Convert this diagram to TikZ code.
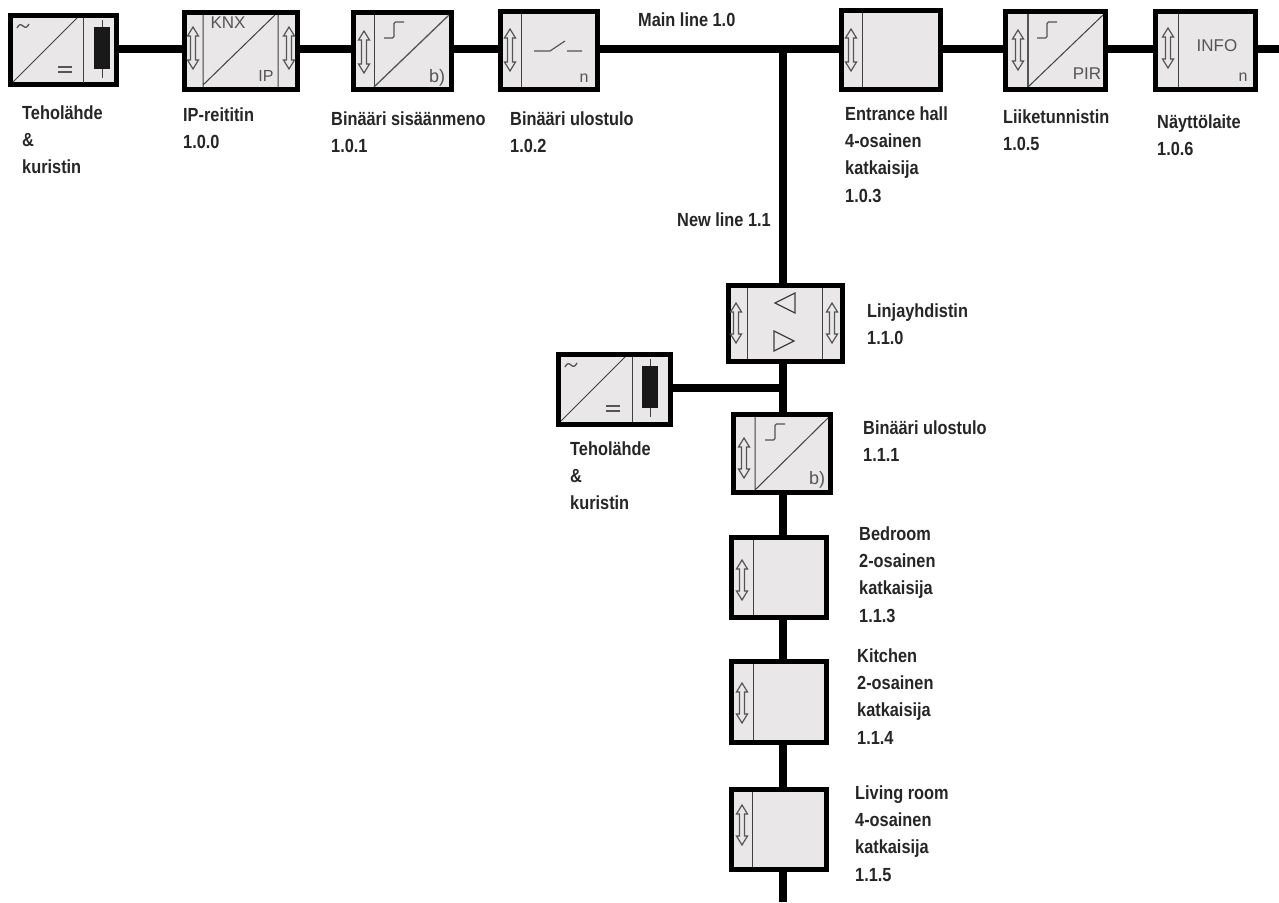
\documentclass[tikz,border=0pt]{standalone}
\usepackage{fontspec}
\setmainfont{Liberation Sans}
\newfontfamily\lblfont[FakeStretch=0.86]{Liberation Sans Bold}
\usetikzlibrary{backgrounds}
\definecolor{boxfill}{HTML}{E9E7E7}
\definecolor{inkgray}{HTML}{555555}
\tikzset{
  x=1pt,y=-1pt,
  devbox/.style={draw=black,line width=5pt,fill=boxfill,inner sep=0pt},
  busline/.style={draw=black,line width=7.5pt},
  thin ink/.style={draw=inkgray,line width=1.2pt},
  dark ink/.style={draw=black!75,line width=1pt},
  lbl/.style={anchor=north west,inner sep=0pt,align=left,text=black!85,
    font=\lblfont\fontsize{19}{27.3}\selectfont},
  glyph/.style={inner sep=0pt,text=inkgray,font=\fontsize{16}{16}\selectfont},
}
\newcommand{\dev}[5]{%
  \pgfmathsetmacro{\cxx}{(#2+#4)/2}\pgfmathsetmacro{\cyy}{(#3+#5)/2}%
  \pgfmathsetmacro{\ww}{#4-#2-5}\pgfmathsetmacro{\hh}{#5-#3-5}%
  \node[devbox,minimum width=\ww pt,minimum height=\hh pt] (#1) at (\cxx,\cyy) {};}
\newcommand{\dbl}[3]{% cx, cy, half height
  \begin{scope}[shift={(#1,#2)}]
  \pgfmathsetmacro{\hb}{#3}\pgfmathsetmacro{\hc}{#3-9}%
  \draw[thin ink,line join=miter] (0,-\hb) -- (5.5,-\hc) -- (2.5,-\hc) -- (2.5,\hc) -- (5.5,\hc) -- (0,\hb)
     -- (-5.5,\hc) -- (-2.5,\hc) -- (-2.5,-\hc) -- (-5.5,-\hc) -- cycle;
  \end{scope}}
\newcommand{\stepsym}[2]{% left x, bottom y
  \draw[thin ink,line width=1.3pt,rounded corners=1.5pt] (#1,#2) -- ++(10,0) -- ++(0,-16) -- ++(10,0);}
\newcommand{\supply}[3]{% left x, top y of outer box, divider x
  \begin{scope}[shift={(#1,#2)}]
  \draw[dark ink] (#3,5) -- (#3,70);
  \draw[dark ink] (5,69) -- (69,5);
  \draw[dark ink] (94,7) -- (94,65);
  \fill[black!90] (86,14) rectangle (102,56);
  \draw[inkgray,line width=1.3pt] (9,15) .. controls (11,11) and (13,11) .. (15,13) .. controls (17,15) and (19,15) .. (21,11);
  \draw[inkgray,line width=1.3pt] (50,54) -- (64,54) (50,59) -- (64,59);
  \end{scope}}
\begin{document}
\begin{tikzpicture}
\useasboundingbox (0,0) rectangle (1279,902);
% devices
\dev{psA}{8}{13}{119}{87}
\dev{ipr}{182}{10}{300}{92}
\dev{binin}{351}{10}{454}{92}
\dev{binout}{498}{9}{600}{92}
\dev{hall}{839}{8}{943}{92}
\dev{pir}{1003}{9}{1108}{92}
\dev{info}{1153}{9}{1258}{92}
\dev{coupler}{726}{283}{845}{364}
\dev{psB}{556}{352}{673}{427}
\dev{binB}{731}{412}{833}{495}
\dev{bed}{729}{535}{829}{620}
\dev{kit}{729}{659}{829}{745}
\dev{liv}{729}{787}{829}{872}
\coordinate (bus) at (0,49);
\coordinate (vbus) at (783,49);
\coordinate (busR) at (1279,49);
\coordinate (vend) at (783,902);
\coordinate (branch) at (783,388);
% connectors
\begin{scope}[on background layer]
\fill[white] (0,0) rectangle (1279,902);
\draw[busline] (psA.east |- bus) -- (ipr.west |- bus);
\draw[busline] (ipr.east |- bus) -- (binin.west |- bus);
\draw[busline] (binin.east |- bus) -- (binout.west |- bus);
\draw[busline] (binout.east |- bus) -- (hall.west |- bus);
\draw[busline] (hall.east |- bus) -- (pir.west |- bus);
\draw[busline] (pir.east |- bus) -- (info.west |- bus);
\draw[busline] (info.east |- bus) -- (busR);
\draw[busline] (vbus) -- (vbus |- coupler.north);
\draw[busline] (vbus |- coupler.south) -- (vbus |- binB.north);
\draw[busline] (vbus |- binB.south) -- (vbus |- bed.north);
\draw[busline] (vbus |- bed.south) -- (vbus |- kit.north);
\draw[busline] (vbus |- kit.south) -- (vbus |- liv.north);
\draw[busline] (vbus |- liv.south) -- (vend);
\draw[busline] (psB.east |- branch) -- (branch);
\end{scope}
% power supplies
\supply{8}{13}{75}
\supply{556}{352}{76}
% IP router
\draw[dark ink] (203,15) -- (203,87) (278,15) -- (278,87) (203,85) -- (275,15);
\dbl{193}{48}{21}\dbl{289}{48}{21}
\node[glyph,font=\fontsize{17}{17}\selectfont] (tknx) at (228,23) {KNX};
\node[glyph] (tip) at (266,76) {IP};
% binary in
\draw[dark ink] (374,15) -- (374,87);
\draw[thin ink,line width=1.3pt] (374,87) -- (449,15);
\dbl{364}{52}{21}\stepsym{384}{38}
\node[glyph,font=\fontsize{18}{18}\selectfont] (tb) at (437,78) {b)};
% binary out
\draw[dark ink] (521,14) -- (521,87);
\dbl{510}{50}{21}
\draw[thin ink,line width=1.2pt] (534,51) -- (550,51) -- (565,41) (567,51) -- (582,51);
\node[glyph] (tn) at (584,78) {n};
% hall
\draw[dark ink] (862,13) -- (862,87);
\dbl{851}{50}{21}
% PIR
\draw[thin ink,line width=1.3pt] (1028,14) -- (1028,87);
\draw[dark ink] (1028,87) -- (1103,15);
\dbl{1018}{50}{20}\stepsym{1037}{38}
\node[glyph,font=\fontsize{17}{17}\selectfont] (tpir) at (1087,74) {PIR};
% INFO
\draw[dark ink] (1178,14) -- (1178,87);
\dbl{1168}{48}{20}
\node[glyph,font=\fontsize{17}{17}\selectfont] (tinfo) at (1217,46) {INFO};
\node[glyph] (tn2) at (1243,77) {n};
% coupler
\draw[dark ink] (747,288) -- (747,359) (822,288) -- (822,359);
\dbl{736}{323}{20}\dbl{832}{323}{20}
\draw[dark ink,line width=1.2pt,line join=miter] (775,303) -- (795,293) -- (795,313) -- cycle;
\draw[dark ink,line width=1.2pt,line join=miter] (794,341) -- (774,331) -- (774,351) -- cycle;
% binary 1.1.1
\draw[dark ink] (755,417) -- (755,490) (755,490) -- (828,418);
\dbl{744}{458}{20}\stepsym{765}{440}
\node[glyph,font=\fontsize{18}{18}\selectfont] (tb2) at (817,480) {b)};
% bedroom, kitchen, living room
\draw[dark ink] (753,540) -- (753,615);\dbl{742}{580}{20}
\draw[dark ink] (753,664) -- (753,740);\dbl{742}{703}{20}
\draw[dark ink] (752,792) -- (752,867);\dbl{742}{825}{20}
% labels
\newcommand{\st}{\rule{0pt}{14pt}}
\node[lbl] (l1) at (22,105) {\st Teholähde\\\&\\kuristin};
\node[lbl] (l2) at (183,107) {\st IP-reititin\\1.0.0};
\node[lbl] (l3) at (331,111) {\st Binääri sisäänmeno\\1.0.1};
\node[lbl] (l4) at (510,111) {\st Binääri ulostulo\\1.0.2};
\node[lbl] (l5) at (638,12) {\st Main line 1.0};
\node[lbl] (l6) at (845,106) {\st Entrance hall\\4-osainen\\katkaisija\\1.0.3};
\node[lbl] (l7) at (1003,109) {\st Liiketunnistin\\1.0.5};
\node[lbl] (l8) at (1157,114) {\st Näyttölaite\\1.0.6};
\node[lbl] (l9) at (677,212) {\st New line 1.1};
\node[lbl] (l10) at (867,303) {\st Linjayhdistin\\1.1.0};
\node[lbl] (l11) at (570,441) {\st Teholähde\\\&\\kuristin};
\node[lbl] (l12) at (863,420) {\st Binääri ulostulo\\1.1.1};
\node[lbl] (l13) at (859,526) {\st Bedroom\\2-osainen\\katkaisija\\1.1.3};
\node[lbl] (l14) at (857,648) {\st Kitchen\\2-osainen\\katkaisija\\1.1.4};
\node[lbl] (l15) at (855,785) {\st Living room\\4-osainen\\katkaisija\\1.1.5};
\end{tikzpicture}
\end{document}
